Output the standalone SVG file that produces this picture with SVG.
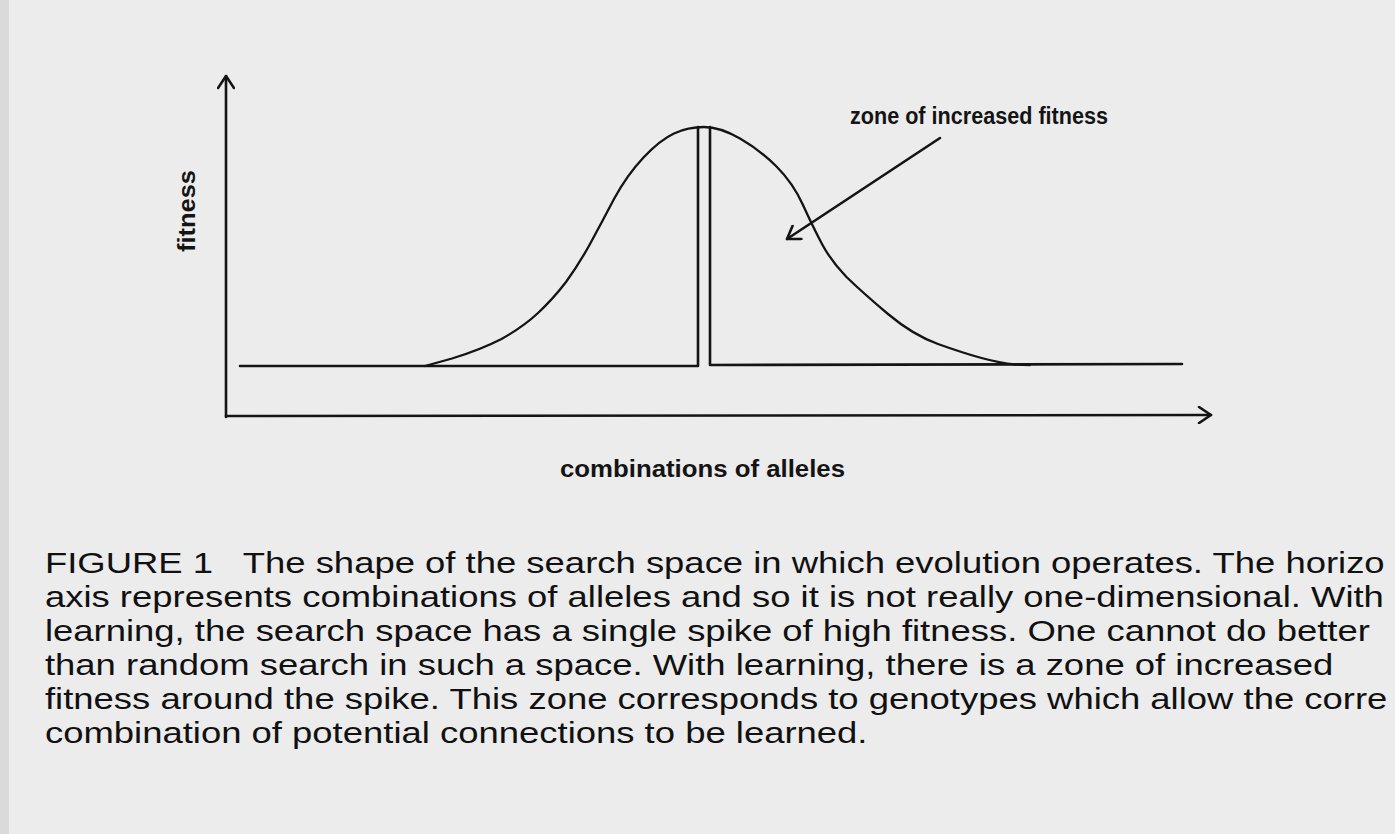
<svg xmlns="http://www.w3.org/2000/svg" width="1395" height="834" viewBox="0 0 1395 834">
  <style>
    .ln { fill: none; stroke: #141414; stroke-width: 2.6; stroke-linecap: round; stroke-linejoin: round; }
    .crv { fill: none; stroke: #141414; stroke-width: 2.3; stroke-linecap: round; stroke-linejoin: round; }
    .lbl { font-family: "Liberation Sans", Arial, sans-serif; font-weight: bold; font-size: 23px; fill: #141414; }
    .cap { font-family: "Liberation Sans", Arial, Helvetica, sans-serif; font-size: 30px; fill: #111; white-space: pre; }
  </style>
  <defs>
    <marker id="head" viewBox="-14 -9 16 18" markerWidth="16" markerHeight="18" refX="0" refY="0" markerUnits="userSpaceOnUse" orient="auto">
      <path d="M-12,-8 L0,0 L-12,8" fill="none" stroke="#141414" stroke-width="2.6" stroke-linecap="round" stroke-linejoin="round"/>
    </marker>
  </defs>
  <rect x="0" y="0" width="1395" height="834" fill="#ececec"/>
  <rect x="0" y="0" width="9" height="834" fill="#dadada"/>

  <g id="connectors">
    <path id="y-axis" class="ln" d="M226,417 L226,76" marker-end="url(#head)"/>
    <path id="x-axis" class="ln" d="M226,416 L1211,415" marker-end="url(#head)"/>
    <path id="zone-arrow" class="ln" d="M940,138 L787,239" marker-end="url(#head)"/>
  </g>

  <g id="landscape">
    <path class="ln" d="M240,366 L698,366 L698,127"/>
    <path class="ln" d="M710,127 L710,365 L1182,364"/>
    <path class="crv" d="M425,366 L452,358.5 Q480,350 501.5,339 Q523,327 538,313 Q553,299 566,282 Q579,264 590,244 Q602,222 614,199 Q627,175 643.5,157.5 Q660,140 674,133.5 Q688,127 704,127 Q720,127 740,138.5 Q760,150 776.5,166.5 Q793,183 803,205 Q813,227 822,244 Q831,261 846.5,277 Q863,293 888,314 Q913,335 938,344 Q963,353 981.5,358 Q1000,363 1015,364.5 L1030,365"/>
  </g>

  <g id="label-fitness">
    <text class="lbl" transform="translate(195,211) rotate(-90)" text-anchor="middle" textLength="82" lengthAdjust="spacingAndGlyphs">fitness</text>
  </g>
  <g id="label-zone">
    <text class="lbl" x="850" y="124" textLength="258" lengthAdjust="spacingAndGlyphs">zone of increased fitness</text>
  </g>
  <g id="label-combinations">
    <text class="lbl" x="560" y="477" textLength="285" lengthAdjust="spacingAndGlyphs">combinations of alleles</text>
  </g>

  <g id="caption" transform="scale(1.215,1)">
    <text class="cap" x="37" y="573">FIGURE 1   The shape of the search space in which evolution operates. The horizo</text>
    <text class="cap" x="37" y="607">axis represents combinations of alleles and so it is not really one-dimensional. With</text>
    <text class="cap" x="37" y="641">learning, the search space has a single spike of high fitness. One cannot do better</text>
    <text class="cap" x="37" y="675">than random search in such a space. With learning, there is a zone of increased</text>
    <text class="cap" x="37" y="709">fitness around the spike. This zone corresponds to genotypes which allow the corre</text>
    <text class="cap" x="37" y="743">combination of potential connections to be learned.</text>
  </g>
</svg>
